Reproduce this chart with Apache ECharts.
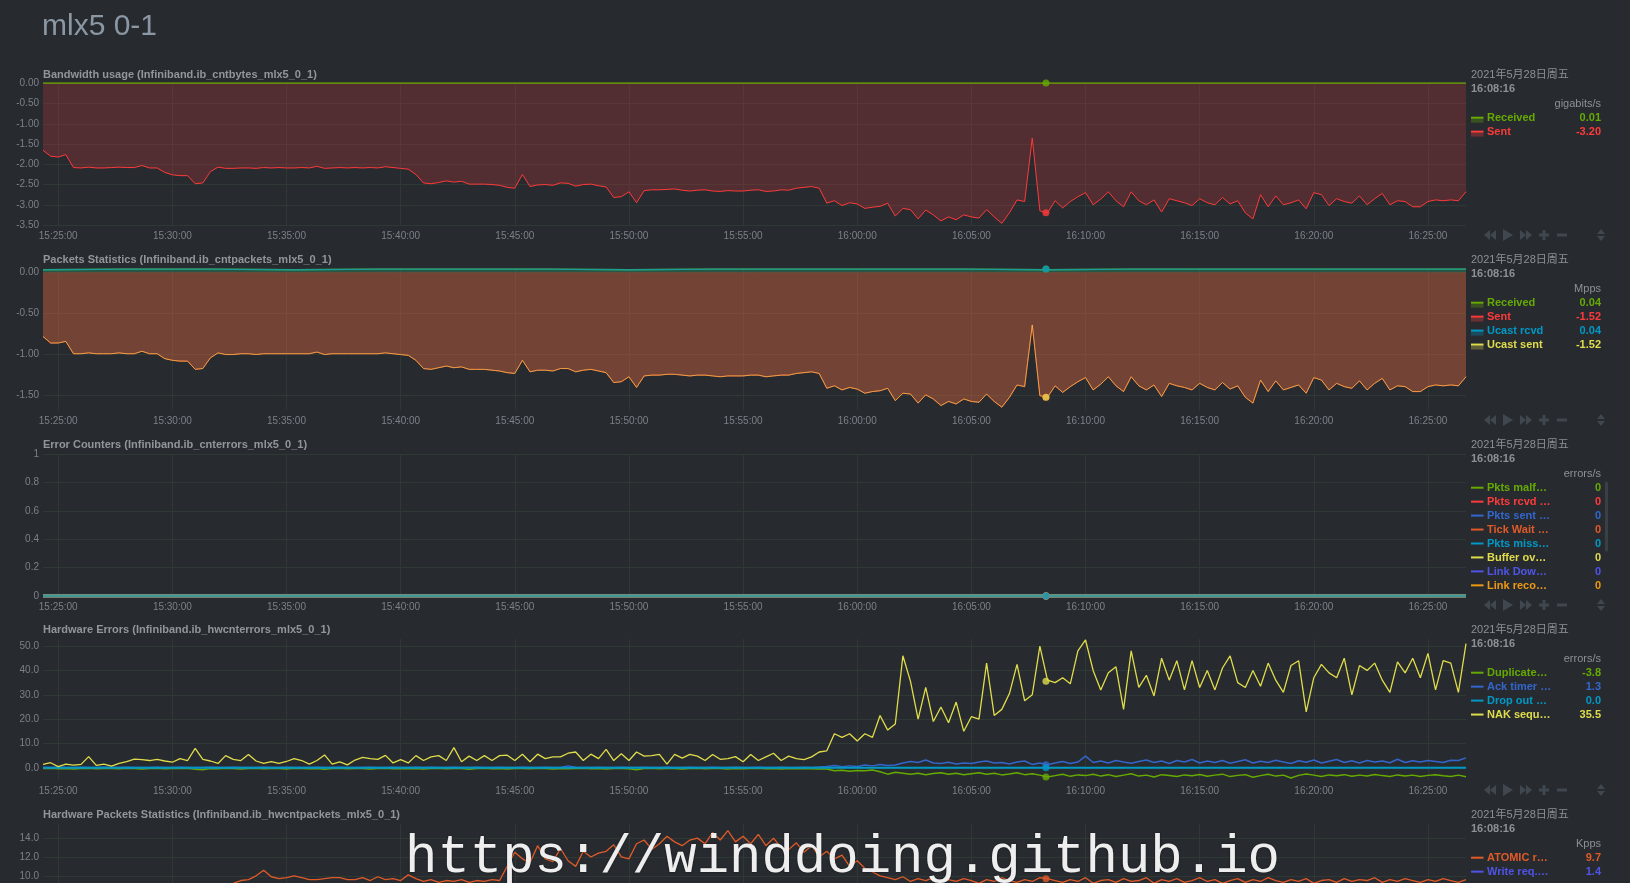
<!DOCTYPE html>
<html><head><meta charset="utf-8">
<script src="https://cdn.jsdelivr.net/npm/echarts@6/dist/echarts.min.js"></script>
<style>
html,body{margin:0;padding:0;width:1630px;height:883px;overflow:hidden;background:#272b30;}
#chart{width:1630px;height:1000px;}
</style></head><body><div id="chart"></div>
<script>
// ---------- time grid (seconds of day) ----------
const T0 = 55460, STEP = 20, N = 188;          // 15:24:20 .. 16:26:40
const COARSE_STEP = 220, NC = 18;               // for flat series
const SEL_T = 58096;                            // 16:08:16 (highlighted)
const xTickValues = [55500,55800,56100,56400,56700,57000,57300,57600,57900,58200,58500,58800,59100];

// ---------- Bandwidth usage (gigabits/s) ----------
const bwReceived = [0.01,0.01,0.01,0.01,0.01,0.01,0.01,0.01,0.01,0.01,0.01,0.01,0.01,0.01,0.01,0.01,0.01,0.01];
const bwSent = [
-1.65,-1.80,-1.82,-1.76,-2.08,-2.09,-2.07,-2.09,-2.09,-2.08,
-2.07,-2.08,-2.08,-2.03,-2.09,-2.09,-2.20,-2.26,-2.28,-2.28,
-2.48,-2.46,-2.18,-2.07,-2.10,-2.10,-2.09,-2.09,-2.10,-2.08,
-2.09,-2.08,-2.09,-2.09,-2.08,-2.09,-2.05,-2.10,-2.09,-2.08,
-2.09,-2.08,-2.09,-2.08,-2.09,-2.06,-2.08,-2.10,-2.12,-2.25,
-2.46,-2.48,-2.45,-2.41,-2.44,-2.42,-2.49,-2.49,-2.49,-2.50,
-2.52,-2.57,-2.59,-2.25,-2.55,-2.51,-2.50,-2.52,-2.46,-2.47,
-2.54,-2.50,-2.49,-2.53,-2.56,-2.82,-2.80,-2.68,-2.95,-2.65,
-2.63,-2.63,-2.62,-2.61,-2.64,-2.66,-2.64,-2.63,-2.66,-2.67,
-2.65,-2.66,-2.66,-2.64,-2.63,-2.67,-2.66,-2.63,-2.64,-2.59,
-2.57,-2.55,-2.59,-2.96,-2.90,-3.02,-2.95,-2.98,-3.09,-3.06,
-3.04,-2.96,-3.28,-3.09,-3.12,-3.35,-3.13,-3.25,-3.40,-3.30,
-3.37,-3.25,-3.30,-3.33,-3.12,-3.30,-3.46,-3.20,-2.88,-2.92,
-1.35,-3.15,-3.20,-2.90,-3.08,-2.92,-2.80,-2.70,-3.00,-2.86,
-2.68,-2.90,-3.05,-2.68,-2.90,-3.00,-2.88,-3.18,-2.85,-2.90,
-2.95,-3.02,-2.85,-2.95,-3.00,-2.82,-2.98,-2.90,-3.20,-3.35,
-2.75,-3.05,-2.78,-3.00,-2.95,-2.88,-3.10,-2.70,-2.75,-3.02,
-2.85,-2.92,-2.96,-2.78,-3.00,-2.85,-2.72,-3.00,-2.90,-2.92,
-3.05,-3.05,-2.92,-2.88,-2.90,-2.88,-2.90,-2.68];

// ---------- Packets statistics (Mpps) ----------
const pktReceived = [0.03,0.04,0.04,0.03,0.04,0.04,0.04,0.03,0.04,0.04,0.04,0.04,0.03,0.04,0.04,0.04,0.04,0.04];
const pktUcastRcvd = [0.03,0.04,0.04,0.03,0.04,0.04,0.04,0.03,0.04,0.04,0.04,0.04,0.03,0.04,0.04,0.04,0.04,0.04];
const pktSent = [
-0.78,-0.86,-0.86,-0.84,-0.99,-0.99,-0.98,-0.99,-0.99,-0.99,
-0.98,-0.99,-0.99,-0.96,-0.99,-0.99,-1.05,-1.07,-1.08,-1.08,
-1.18,-1.17,-1.04,-0.98,-1.00,-1.00,-0.99,-0.99,-1.00,-0.99,
-0.99,-0.99,-0.99,-0.99,-0.99,-0.99,-0.97,-1.00,-0.99,-0.99,
-0.99,-0.99,-0.99,-0.99,-0.99,-0.98,-0.99,-1.00,-1.01,-1.07,
-1.17,-1.18,-1.16,-1.14,-1.16,-1.15,-1.18,-1.18,-1.18,-1.19,
-1.20,-1.22,-1.23,-1.07,-1.21,-1.19,-1.19,-1.20,-1.17,-1.17,
-1.21,-1.19,-1.18,-1.20,-1.22,-1.34,-1.33,-1.27,-1.40,-1.26,
-1.25,-1.25,-1.24,-1.24,-1.25,-1.26,-1.25,-1.25,-1.26,-1.27,
-1.26,-1.26,-1.26,-1.25,-1.25,-1.27,-1.26,-1.25,-1.25,-1.23,
-1.22,-1.21,-1.23,-1.41,-1.38,-1.43,-1.40,-1.42,-1.47,-1.45,
-1.44,-1.41,-1.56,-1.47,-1.48,-1.59,-1.49,-1.54,-1.62,-1.57,
-1.60,-1.54,-1.57,-1.58,-1.48,-1.57,-1.64,-1.52,-1.37,-1.39,
-0.64,-1.50,-1.52,-1.38,-1.46,-1.39,-1.33,-1.28,-1.43,-1.36,
-1.27,-1.38,-1.45,-1.27,-1.38,-1.43,-1.37,-1.51,-1.35,-1.38,
-1.40,-1.43,-1.35,-1.40,-1.43,-1.34,-1.42,-1.38,-1.52,-1.59,
-1.31,-1.45,-1.32,-1.43,-1.40,-1.37,-1.47,-1.28,-1.31,-1.43,
-1.35,-1.39,-1.41,-1.32,-1.43,-1.35,-1.29,-1.43,-1.38,-1.39,
-1.45,-1.45,-1.39,-1.37,-1.38,-1.37,-1.38,-1.27];
const pktUcastSent = [
-0.78,-0.86,-0.86,-0.84,-0.99,-0.99,-0.98,-0.99,-0.99,-0.99,
-0.98,-0.99,-0.99,-0.96,-0.99,-0.99,-1.05,-1.07,-1.08,-1.08,
-1.18,-1.17,-1.04,-0.98,-1.00,-1.00,-0.99,-0.99,-1.00,-0.99,
-0.99,-0.99,-0.99,-0.99,-0.99,-0.99,-0.97,-1.00,-0.99,-0.99,
-0.99,-0.99,-0.99,-0.99,-0.99,-0.98,-0.99,-1.00,-1.01,-1.07,
-1.17,-1.18,-1.16,-1.14,-1.16,-1.15,-1.18,-1.18,-1.18,-1.19,
-1.20,-1.22,-1.23,-1.07,-1.21,-1.19,-1.19,-1.20,-1.17,-1.17,
-1.21,-1.19,-1.18,-1.20,-1.22,-1.34,-1.33,-1.27,-1.40,-1.26,
-1.25,-1.25,-1.24,-1.24,-1.25,-1.26,-1.25,-1.25,-1.26,-1.27,
-1.26,-1.26,-1.26,-1.25,-1.25,-1.27,-1.26,-1.25,-1.25,-1.23,
-1.22,-1.21,-1.23,-1.41,-1.38,-1.43,-1.40,-1.42,-1.47,-1.45,
-1.44,-1.41,-1.56,-1.47,-1.48,-1.59,-1.49,-1.54,-1.62,-1.57,
-1.60,-1.54,-1.57,-1.58,-1.48,-1.57,-1.64,-1.52,-1.37,-1.39,
-0.64,-1.50,-1.52,-1.38,-1.46,-1.39,-1.33,-1.28,-1.43,-1.36,
-1.27,-1.38,-1.45,-1.27,-1.38,-1.43,-1.37,-1.51,-1.35,-1.38,
-1.40,-1.43,-1.35,-1.40,-1.43,-1.34,-1.42,-1.38,-1.52,-1.59,
-1.31,-1.45,-1.32,-1.43,-1.40,-1.37,-1.47,-1.28,-1.31,-1.43,
-1.35,-1.39,-1.41,-1.32,-1.43,-1.35,-1.29,-1.43,-1.38,-1.39,
-1.45,-1.45,-1.39,-1.37,-1.38,-1.37,-1.38,-1.27];

// ---------- Error counters (errors/s) ----------
const errorCounterValues = [0,0,0,0,0,0,0,0,0,0,0,0,0,0,0,0,0,0];

// ---------- Hardware errors (errors/s) ----------
const hwDuplicate = [
-0.3,-0.2,-0.4,-0.3,-0.5,-0.3,-0.2,-0.4,-0.3,-0.3,
-0.4,-0.2,-0.3,-0.5,-0.3,-0.2,-0.4,-0.3,-0.3,-0.2,
-0.6,-0.8,-0.3,-0.4,-0.2,-0.3,-0.5,-0.3,-0.2,-0.4,
-0.3,-0.3,-0.5,-0.2,-0.3,-0.4,-0.3,-0.6,-0.3,-0.2,
-0.4,-0.3,-0.3,-0.5,-0.3,-0.2,-0.4,-0.3,-0.4,-0.3,
-0.5,-0.3,-0.2,-0.4,-0.3,-0.3,-0.6,-0.3,-0.2,-0.4,
-0.3,-0.5,-0.3,-0.3,-0.4,-0.2,-0.3,-0.5,-0.3,-0.4,
-0.3,-0.2,-0.4,-0.3,-0.5,-0.3,-0.3,-0.4,-0.8,-0.3,
-0.2,-0.4,-0.3,-0.3,-0.5,-0.3,-0.2,-0.4,-0.3,-0.3,
-0.5,-0.3,-0.4,-0.3,-0.2,-0.4,-0.3,-0.5,-0.3,-0.4,
-0.3,-0.4,-0.5,-0.5,-1.2,-1.0,-1.4,-1.1,-1.2,-0.9,
-1.6,-2.6,-1.8,-2.2,-2.6,-2.2,-2.8,-2.3,-2.0,-2.6,
-2.2,-2.8,-2.4,-2.0,-2.6,-2.2,-2.9,-2.5,-2.0,-2.8,
-2.4,-3.0,-3.8,-3.2,-2.6,-3.5,-2.9,-3.2,-2.6,-3.4,
-2.8,-3.6,-3.0,-2.4,-3.4,-3.0,-3.8,-2.8,-3.2,-3.6,
-2.9,-3.3,-2.7,-3.5,-3.0,-2.6,-3.6,-3.1,-2.8,-3.9,
-3.2,-2.6,-3.4,-3.0,-4.2,-3.1,-2.5,-3.0,-3.6,-2.9,
-3.3,-2.8,-3.5,-3.0,-3.4,-2.7,-3.2,-3.6,-2.9,-3.4,
-3.0,-3.6,-3.1,-2.8,-3.3,-3.6,-3.0,-3.7];
const hwAckTimer = [
0.1,0.1,0.2,0.1,0.1,0.2,0.1,0.1,0.2,0.1,
0.1,0.2,0.1,0.1,0.1,0.2,0.1,0.1,0.2,0.1,
0.1,0.1,0.2,0.1,0.1,0.2,0.1,0.1,0.1,0.2,
0.1,0.1,0.2,0.1,0.1,0.1,0.2,0.1,0.1,0.2,
0.1,0.1,0.1,0.2,0.1,0.1,0.2,0.1,0.1,0.2,
0.1,0.2,0.1,0.1,0.2,0.1,0.1,0.2,0.1,0.1,
0.2,0.1,0.1,0.2,0.1,0.1,0.2,0.1,0.1,0.8,
0.2,0.1,0.1,0.2,0.1,0.1,0.2,0.1,0.1,0.2,
0.1,0.1,0.2,0.1,0.1,0.2,0.1,0.1,0.2,0.1,
0.1,0.2,0.1,0.1,0.2,0.1,0.1,0.2,0.1,0.1,
0.2,0.1,0.3,0.5,1.0,0.4,0.8,0.5,1.2,0.8,
1.4,1.0,1.2,2.0,2.6,2.2,3.2,2.0,1.8,2.3,
1.6,2.0,1.8,2.4,2.8,2.0,2.2,1.6,2.4,2.8,
1.4,2.0,1.3,2.0,2.6,1.8,2.4,4.8,2.2,2.8,
2.0,3.0,2.4,1.9,2.6,3.2,2.2,2.8,1.8,3.0,
2.4,3.4,2.0,2.8,2.2,3.0,1.9,2.6,3.3,2.0,
2.7,2.2,3.1,2.4,1.8,2.9,2.3,3.2,2.0,2.7,
3.4,2.2,2.9,2.0,3.0,2.4,2.8,2.1,3.5,2.2,
2.9,2.4,3.0,2.6,2.2,3.1,3.0,4.1];
const hwDropOut = [0,0,0,0,0,0,0,0,0,0,0,0,0,0,0,0,0,0];
const hwNakSeq = [
1.4,2.1,0.5,1.5,1.1,1.4,4.6,1.0,1.5,0.7,
1.8,2.5,3.6,3.4,3.0,3.5,2.8,2.3,3.8,3.0,
8.0,3.5,2.8,1.8,5.0,3.5,3.0,5.5,2.8,1.8,
2.5,1.8,2.6,3.8,3.0,1.5,3.0,5.3,1.5,2.4,
1.2,3.2,4.3,3.8,3.5,5.1,2.0,3.4,2.0,5.0,
3.0,4.5,5.0,3.0,8.3,2.5,4.8,3.0,5.0,3.0,
5.0,5.2,3.0,5.6,2.5,5.6,3.8,4.5,4.5,6.0,
6.5,3.0,5.6,3.8,7.6,3.0,5.8,3.0,6.5,4.8,
5.0,5.5,1.5,5.5,4.0,5.5,4.8,3.0,5.5,3.5,
3.8,4.6,2.5,5.5,3.0,4.5,6.0,3.0,4.8,3.8,
3.4,4.5,6.5,7.0,14.0,12.5,14.0,11.0,14.0,12.5,
21.5,15.5,18.0,46.0,35.5,20.0,33.0,19.0,25.0,18.5,
27.0,15.0,21.0,20.0,43.0,21.5,24.0,30.5,42.5,27.5,
30.0,50.0,36.0,35.0,37.0,34.5,48.0,52.5,40.0,32.0,
39.0,41.5,24.0,48.0,33.0,38.0,29.5,45.0,36.0,44.0,
32.0,44.0,33.0,40.0,32.0,41.0,46.0,35.0,33.0,40.0,
33.5,43.0,36.0,31.0,42.0,44.0,23.0,37.0,42.5,39.0,
37.0,45.0,30.0,42.0,40.0,43.0,36.0,31.0,43.5,39.0,
45.0,37.0,47.0,32.0,44.0,43.0,31.0,51.0];

// ---------- Hardware packets statistics (Kpps) ----------
const hwAtomicReq = [
8.4,8.6,8.3,8.7,8.5,8.8,8.4,8.6,8.5,8.9,
8.6,8.4,8.7,8.5,8.8,8.6,8.9,8.5,8.7,8.6,
8.8,8.5,8.9,8.7,9.0,9.2,9.5,9.6,10.0,10.6,
9.9,9.7,9.8,10.0,9.8,9.6,9.6,9.7,9.8,9.8,
9.6,9.6,9.8,9.5,9.9,9.6,9.7,9.5,10.1,9.7,
9.4,9.6,9.3,9.5,9.4,9.6,9.3,9.5,9.4,9.6,
9.5,11.0,12.5,11.8,11.4,13.2,11.8,11.5,12.9,11.6,
11.0,12.6,12.0,12.4,12.6,13.3,12.0,11.8,13.4,13.8,
12.8,13.4,14.2,13.6,13.2,13.8,14.0,13.4,14.6,13.8,
14.8,13.6,14.2,13.4,14.4,13.2,14.0,13.0,12.8,13.5,
12.5,13.2,12.0,12.6,11.8,12.2,11.0,11.6,10.8,10.4,
10.0,9.8,9.6,9.9,9.4,9.7,9.5,9.8,9.3,9.6,
9.4,9.7,9.5,9.2,9.6,9.4,9.8,9.5,9.3,9.6,
9.4,9.8,9.7,9.5,9.3,9.6,9.4,9.8,9.2,9.5,
9.6,9.3,9.7,9.4,9.5,9.8,9.2,9.6,9.4,9.7,
9.3,9.5,9.8,9.4,9.6,9.2,9.5,9.7,9.3,9.6,
9.4,9.8,9.5,9.3,9.6,9.4,9.7,9.2,9.5,9.6,
9.3,9.7,9.4,9.6,9.5,9.8,9.3,9.6,9.4,9.7,
9.5,9.3,9.6,9.4,9.7,9.5,9.3,9.6];
const hwWriteReq = [1.3,1.5,1.4,1.2,1.5,1.4,1.3,1.6,1.4,1.5,1.3,1.4,1.6,1.4,1.3,1.5,1.4,1.4];

// ---------- values at the highlighted time (legend) ----------
const selBandwidth = [0.01, -3.20];
const selPackets = [0.04, -1.52, 0.04, -1.52];
const selErrors = [0, 0, 0, 0, 0, 0, 0, 0];
const selHwErrors = [-3.8, 1.3, 0.0, 35.5];
const selHwPackets = [9.7, 1.4];

// ---------- tick labels ----------
const yTicksBandwidth = [-3.5,-3,-2.5,-2,-1.5,-1,-0.5,0];
const yTicksPackets = [-1.5,-1,-0.5,0];
const yTicksErrors = [0,0.2,0.4,0.6,0.8,1];
const yTicksHwErrors = [0,10,20,30,40,50];
const yTicksHwPackets = [0,2,4,6,8,10,12,14];

// ---------- build ----------
const sampleTimes = []; for (let i = 0; i < N; i++) sampleTimes.push(T0 + STEP * i);
const coarseTimes = []; for (let i = 0; i < NC; i++) coarseTimes.push(T0 + COARSE_STEP * i);

const FONTF = '"Liberation Sans", Arial, "Noto Sans CJK SC", sans-serif';
const C = {green:'#66aa00', red:'#fe3a3a', blue:'#3366cc', cyan:'#0099c6', yellow:'#e0dc4a',
           tick:'#e05a28', indigo:'#5054e6', orange:'#ee9911'};
const GRIDC = '#2e3835', LABELC = '#7b8187', TEXTC = '#8d9196';

function pad(n){ return (n < 10 ? '0' : '') + n; }
function fmtTime(v){ v = Math.round(v); return pad(Math.floor(v/3600)) + ':' + pad(Math.floor(v%3600/60)) + ':' + pad(v%60); }

const panels = [
  {title:'Bandwidth usage (Infiniband.ib_cntbytes_mlx5_0_1)', top:83, height:142, min:-3.5, max:0.01,
   ticks:yTicksBandwidth, dec:2, unit:'gigabits/s', area:true, sel:selBandwidth,
   series:[
     {name:'Received', color:C.green, data:bwReceived, coarse:true, width:1.5, area:0.2},
     {name:'Sent', color:C.red, data:bwSent, width:1, area:0.2}
   ]},
  {title:'Packets Statistics (Infiniband.ib_cntpackets_mlx5_0_1)', top:269, height:141.5, min:-1.68, max:0.04,
   ticks:yTicksPackets, dec:2, unit:'Mpps', area:true, sel:selPackets,
   series:[
     {name:'Received', color:C.green, data:pktReceived, coarse:true, width:1.5, area:0.2},
     {name:'Sent', color:C.red, data:pktSent, width:1, area:0.28},
     {name:'Ucast rcvd', color:C.cyan, data:pktUcastRcvd, coarse:true, width:1.5, area:0.2, opacity:0.7},
     {name:'Ucast sent', color:C.yellow, data:pktUcastSent, width:1, area:0.13, opacity:0.6}
   ]},
  {title:'Error Counters (Infiniband.ib_cnterrors_mlx5_0_1)', top:454, height:142, min:0, max:1,
   ticks:yTicksErrors, dec:-1, unit:'errors/s', sel:selErrors, legendDec:0,
   series:[
     {name:'Pkts malf…', color:C.green, data:errorCounterValues, coarse:true, width:3},
     {name:'Pkts rcvd …', color:C.red, data:errorCounterValues, coarse:true, width:3},
     {name:'Pkts sent …', color:C.blue, data:errorCounterValues, coarse:true, width:3},
     {name:'Tick Wait …', color:C.tick, data:errorCounterValues, coarse:true, width:3},
     {name:'Buffer ov…', color:C.yellow, data:errorCounterValues, coarse:true, width:3, order:5},
     {name:'Link Dow…', color:C.indigo, data:errorCounterValues, coarse:true, width:3, order:6},
     {name:'Link reco…', color:C.orange, data:errorCounterValues, coarse:true, width:3, order:7},
     {name:'Pkts miss…', color:C.cyan, data:errorCounterValues, coarse:true, width:3, order:4, opacity:0.75}
   ]},
  {title:'Hardware Errors (Infiniband.ib_hwcnterrors_mlx5_0_1)', top:639, height:141, min:-5.0, max:52.9,
   ticks:yTicksHwErrors, dec:1, unit:'errors/s', sel:selHwErrors, legendDec:1,
   series:[
     {name:'Duplicate…', color:C.green, data:hwDuplicate, width:1.5},
     {name:'Ack timer …', color:C.blue, data:hwAckTimer, width:1.5},
     {name:'Drop out …', color:C.cyan, data:hwDropOut, coarse:true, width:2},
     {name:'NAK sequ…', color:C.yellow, data:hwNakSeq, width:1.3}
   ]},
  {title:'Hardware Packets Statistics (Infiniband.ib_hwcntpackets_mlx5_0_1)', top:824, height:146, min:0, max:15.5,
   ticks:yTicksHwPackets, dec:1, unit:'Kpps', sel:selHwPackets, legendDec:1,
   series:[
     {name:'ATOMIC r…', color:C.tick, data:hwAtomicReq, width:1.3},
     {name:'Write req.…', color:C.indigo, data:hwWriteReq, coarse:true, width:1.3}
   ]}
];

const grids = [], xAxes = [], yAxes = [], series = [], graphic = [];

function txt(x, y, text, fill, font, align, va){
  return {type:'text', x:x, y:y, silent:true, z:100,
    style:{text:text, fill:fill, font:font, textAlign:align||'left', align:align||'left',
           textVerticalAlign:va||'middle', verticalAlign:va||'middle'}};
}
function rect(x, y, w, h, fill, opacity){
  return {type:'rect', silent:true, z:100, shape:{x:x, y:y, width:w, height:h}, style:{fill:fill, opacity:opacity==null?1:opacity}};
}
function poly(points, fill){
  return {type:'polygon', silent:true, z:100, shape:{points:points}, style:{fill:fill}};
}

graphic.push(txt(42, 27, 'mlx5 0-1', '#8b97a3', 'normal 30px ' + FONTF));

panels.forEach((p, k) => {
  const dy = 185 * k;
  grids.push({left:43, width:1423, top:p.top, height:p.height, containLabel:false});
  xAxes.push({type:'value', gridIndex:k, min:T0, max:T0 + STEP*(N-1),
    axisLine:{show:false}, axisTick:{show:false, customValues:xTickValues},
    axisLabel:{customValues:xTickValues, formatter:fmtTime, color:LABELC, fontSize:10, fontFamily:FONTF, margin:6},
    splitLine:{show:true, lineStyle:{color:GRIDC, width:1}}});
  yAxes.push({type:'value', gridIndex:k, min:p.min, max:p.max,
    axisLine:{show:false}, axisTick:{show:false, customValues:p.ticks},
    axisLabel:{customValues:p.ticks, color:LABELC, fontSize:10, fontFamily:FONTF, margin:4,
      formatter: v => p.dec < 0 ? String(+(+v).toFixed(1)) : (+v).toFixed(p.dec)},
    splitLine:{show:true, lineStyle:{color:GRIDC, width:1}}});

  p.series.forEach((s, j) => {
    const times = s.coarse ? coarseTimes : sampleTimes;
    const item = {type:'line', name:s.name, xAxisIndex:k, yAxisIndex:k, silent:true,
      data: s.data.map((v, i) => [times[i], v]),
      showSymbol:false, symbol:'none', animation:false, z:2 + j,
      itemStyle:{color:s.color},
      lineStyle:{color:s.color, width:s.width, opacity:s.opacity==null?1:s.opacity}};
    if (s.area) item.areaStyle = {color:s.color, opacity:s.area};
    series.push(item);
  });

  // highlighted time markers
  series.push({type:'scatter', xAxisIndex:k, yAxisIndex:k, silent:true, animation:false, z:20,
    symbolSize:7,
    data: p.sel.map((v, j) => ({value:[SEL_T, v], itemStyle:{color:p.series[j].color}}))});

  // title
  graphic.push(txt(43, 74.5 + dy, p.title, '#92969b', 'bold 11px ' + FONTF));
  // legend header
  graphic.push(txt(1471, 74.7 + dy, '2021年5月28日周五', TEXTC, 'normal 11px ' + FONTF));
  graphic.push(txt(1471, 89.3 + dy, '16:08:16', TEXTC, 'bold 11px ' + FONTF));
  graphic.push(txt(1601, 104.3 + dy, p.unit, TEXTC, 'normal 11px ' + FONTF, 'right'));
  // legend rows (in netdata's order)
  const rows = p.series.map((s, j) => ({s:s, v:p.sel[j], ord: s.order==null ? j : s.order}))
                       .sort((a, b) => a.ord - b.ord);
  rows.forEach((r, j) => {
    const y = 118.3 + dy + 13.95 * j;
    if (p.area) graphic.push(rect(1471, y + 0.2, 12.5, 4.2, r.s.color, 0.3));
    graphic.push(rect(1471, y - 1.6, 12.5, 2, r.s.color));
    graphic.push(txt(1487, y, r.s.name, r.s.color, 'bold 11px ' + FONTF));
    const dec = p.legendDec != null ? p.legendDec : p.dec;
    graphic.push(txt(1601, y, (+r.v).toFixed(dec), r.s.color, 'bold 11px ' + FONTF, 'right'));
  });
  // control icons
  const cy = 235 + dy, IC = '#41474e';
  graphic.push(poly([[1490, cy-5],[1490, cy+5],[1484, cy]], IC));
  graphic.push(poly([[1496, cy-5],[1496, cy+5],[1490, cy]], IC));
  graphic.push(poly([[1503, cy-6],[1503, cy+6],[1513, cy]], IC));
  graphic.push(poly([[1520, cy-5],[1520, cy+5],[1526, cy]], IC));
  graphic.push(poly([[1526, cy-5],[1526, cy+5],[1532, cy]], IC));
  graphic.push(rect(1539, cy-1.5, 10, 3, IC));
  graphic.push(rect(1542.5, cy-5, 3, 10, IC));
  graphic.push(rect(1557, cy-1.5, 10, 3, IC));
  graphic.push(poly([[1597, cy-1],[1605, cy-1],[1601, cy-6]], IC));
  graphic.push(poly([[1597, cy+1],[1605, cy+1],[1601, cy+6]], IC));
});

// legend scrollbar of Error Counters
graphic.push({type:'rect', silent:true, z:100, shape:{x:1605, y:481.5, width:3, height:70, r:1.5}, style:{fill:'#3a3f45'}});

// watermark
graphic.push({type:'text', x:405, y:858, silent:true, z:200,
  style:{text:'https://winddoing.github.io', fill:'#eeeeee', font:'normal 54px "Liberation Mono", "Courier New", monospace',
         textAlign:'left', align:'left', textVerticalAlign:'middle', verticalAlign:'middle',
         textShadowColor:'rgba(0,0,0,0.6)', textShadowBlur:2}});

const chart = echarts.init(document.getElementById('chart'), null, {renderer:'canvas'});
chart.setOption({
  backgroundColor:'#272b30',
  animation:false,
  grid:grids, xAxis:xAxes, yAxis:yAxes, series:series, graphic:graphic
});
</script></body></html>
